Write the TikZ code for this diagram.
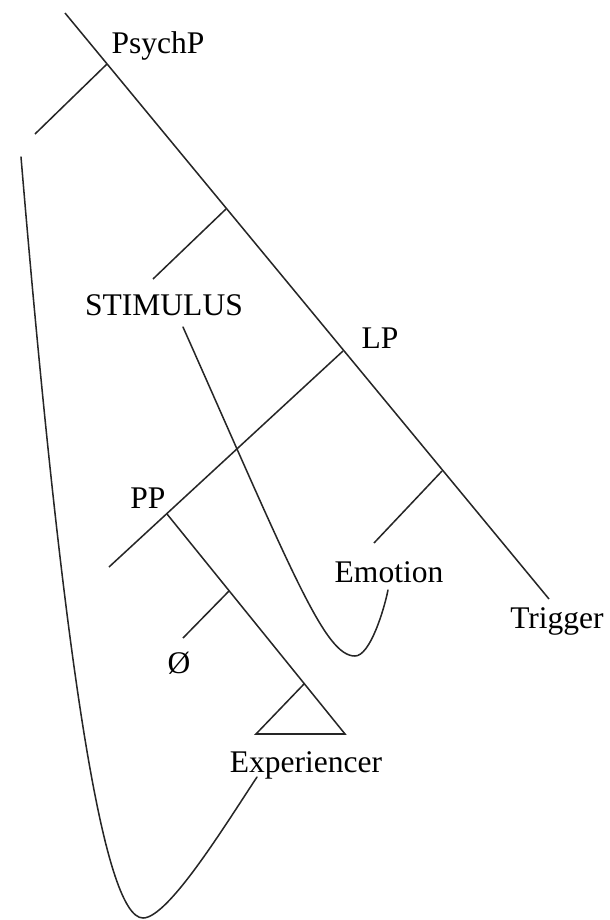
\documentclass[tikz,border=0pt]{standalone}
\usepackage{fontspec}
\setmainfont{Liberation Serif}
\begin{document}
\begin{tikzpicture}[
  x=0.03cm,y=-0.03cm,
  font=\fontsize{26.9}{32}\selectfont,
  branch/.style={draw=black!85,line width=1.3pt},
  link/.style={draw=black!85,line width=1.3pt,line cap=round},
  cat/.style={anchor=base,inner sep=0pt}
]
\useasboundingbox (0,0) rectangle (609,920);

\coordinate (top) at (65,13);
\coordinate (psychB) at (107,64);
\coordinate (psychL) at (35,134);
\coordinate (stimB) at (226,209);
\coordinate (stimL) at (153,279);
\coordinate (lpB) at (343,351);
\coordinate (emoB) at (442,471);
\coordinate (emoL) at (374,543);
\coordinate (trigE) at (549,599);
\coordinate (ppL) at (109,567);
\coordinate (ppB) at (167,514);
\coordinate (nullB) at (229,591);
\coordinate (nullL) at (183,638);
\coordinate (triA) at (304,684);
\coordinate (triL) at (256,734);
\coordinate (triR) at (345,734);
\coordinate (loopA) at (21,157);
\coordinate (loopM) at (143,918);
\coordinate (loopB) at (257,777);
\coordinate (curlA) at (183,327);
\coordinate (curlM) at (355,656);
\coordinate (curlB) at (388,590);

\node[cat] (psychp) at (158,53) {PsychP};
\node[cat] (stimulus) at (164,315) {STIMULUS};
\node[cat] (lp) at (380,348) {LP};
\node[cat] (pp) at (148,508) {PP};
\node[cat] (emotion) at (389,582) {Emotion};
\node[cat] (trigger) at (557,628) {Trigger};
\node[cat] (null) at (179,673) {\O};
\node[cat] (experiencer) at (306,772) {Experiencer};

\draw[branch] (top)--(trigE);
\draw[branch] (psychB)--(psychL);
\draw[branch] (stimB)--(stimL);
\draw[branch] (lpB)--(ppL);
\draw[branch] (emoB)--(emoL);
\draw[branch] (ppB)--(triR)--(triL)--(triA);
\draw[branch] (nullB)--(nullL);

\draw[link] (loopA) .. controls (63,658) and (103,918) .. (loopM)
  .. controls (168,918) and (224,827) .. (loopB);
\draw[link] (curlA) .. controls (294,577) and (325,656) .. (curlM)
  .. controls (370,656) and (384,610) .. (curlB);
\end{tikzpicture}
\end{document}
